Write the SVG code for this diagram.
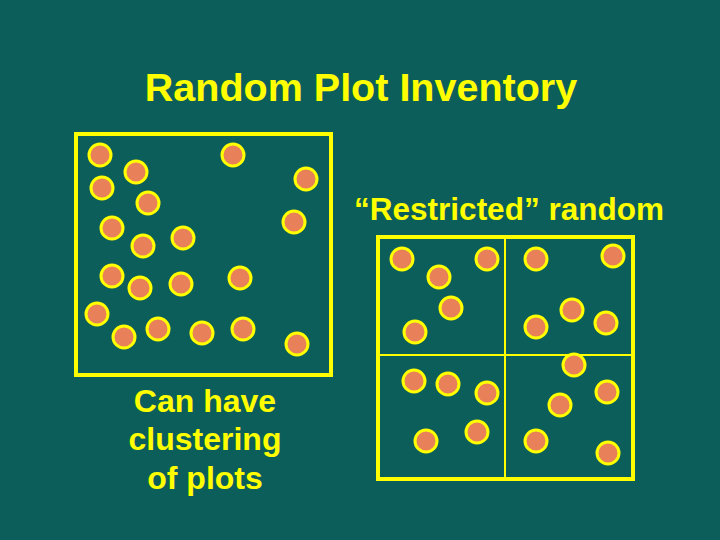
<svg xmlns="http://www.w3.org/2000/svg" width="720" height="540" viewBox="0 0 720 540">
<style>
.t{font-family:"Liberation Sans",Arial,sans-serif;font-weight:bold;fill:#ffff00;text-anchor:middle}
.box{fill:none;stroke:#ffff00;stroke-width:4}
.div{stroke:#ffff00;stroke-width:2}
.p{fill:#e8805a;stroke:#ffff00;stroke-width:3}
</style>
<defs><circle id="c" r="11" class="p"/></defs>
<rect width="720" height="540" fill="#0c5e5b"/>
<text class="t" x="361" y="101" font-size="39.5">Random Plot Inventory</text>
<text class="t" x="509" y="220" font-size="31.5">“Restricted” random</text>
<g id="caption">
<text class="t" x="205" y="412" font-size="32">Can have</text>
<text class="t" x="205" y="450" font-size="32">clustering</text>
<text class="t" x="205" y="489" font-size="32">of plots</text>
</g>
<g id="random">
<rect class="box" x="76" y="134" width="255" height="241"/>
<use href="#c" x="100" y="155"/><use href="#c" x="136" y="172"/><use href="#c" x="102" y="188"/>
<use href="#c" x="148" y="203"/><use href="#c" x="112" y="228"/><use href="#c" x="143" y="246"/>
<use href="#c" x="183" y="238"/><use href="#c" x="112" y="276"/><use href="#c" x="140" y="288"/>
<use href="#c" x="181" y="284"/><use href="#c" x="97" y="314"/><use href="#c" x="124" y="337"/>
<use href="#c" x="158" y="329"/><use href="#c" x="202" y="333"/><use href="#c" x="243" y="329"/>
<use href="#c" x="240" y="278"/><use href="#c" x="233" y="155"/><use href="#c" x="306" y="179"/>
<use href="#c" x="294" y="222"/><use href="#c" x="297" y="344"/>
</g>
<g id="restricted">
<rect class="box" x="378" y="237" width="255" height="242"/>
<line class="div" x1="505" y1="237" x2="505" y2="479"/>
<line class="div" x1="378" y1="355" x2="633" y2="355"/>
<use href="#c" x="402" y="259"/><use href="#c" x="487" y="259"/><use href="#c" x="439" y="277"/>
<use href="#c" x="451" y="308"/><use href="#c" x="415" y="332"/>
<use href="#c" x="536" y="259"/><use href="#c" x="613" y="256"/><use href="#c" x="572" y="310"/>
<use href="#c" x="536" y="327"/><use href="#c" x="606" y="323"/>
<use href="#c" x="414" y="381"/><use href="#c" x="448" y="384"/><use href="#c" x="487" y="393"/>
<use href="#c" x="477" y="432"/><use href="#c" x="426" y="441"/>
<use href="#c" x="574" y="365"/><use href="#c" x="607" y="392"/><use href="#c" x="560" y="405"/>
<use href="#c" x="536" y="441"/><use href="#c" x="608" y="453"/>
</g>
</svg>
